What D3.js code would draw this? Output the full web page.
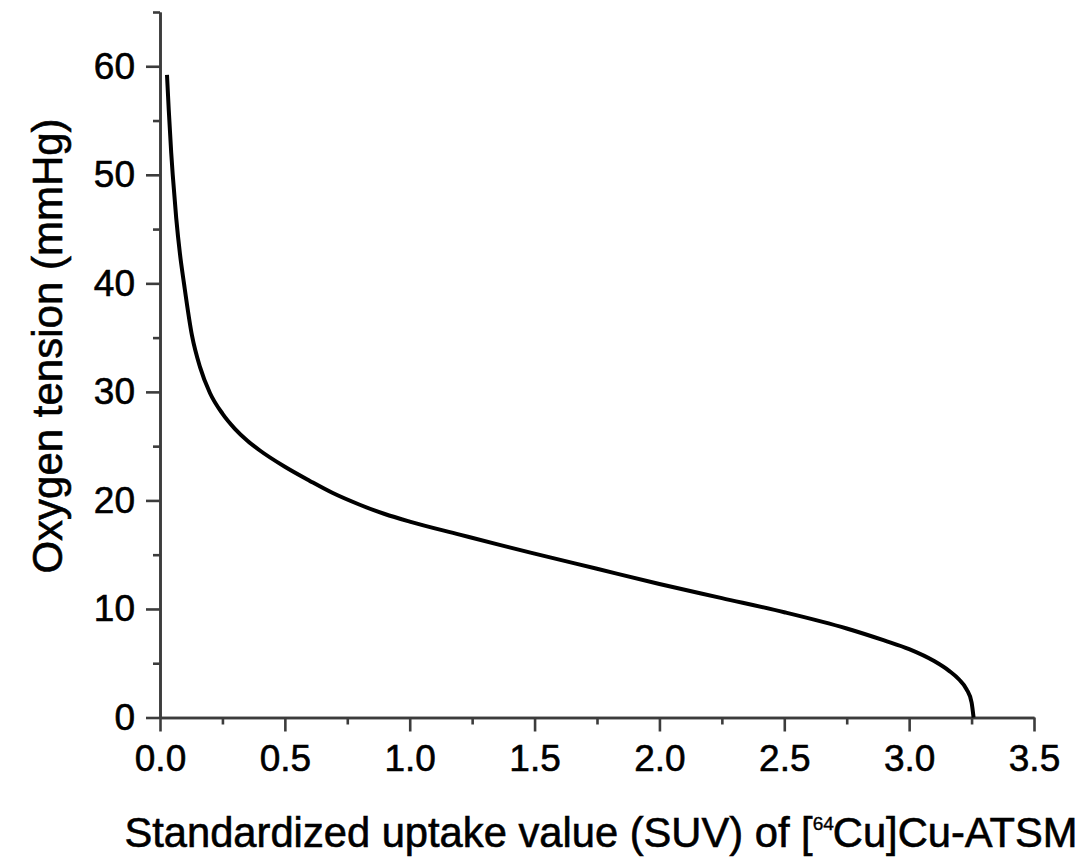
<!DOCTYPE html>
<html>
<head>
<meta charset="utf-8">
<script src="https://cdn.jsdelivr.net/npm/d3@7/dist/d3.min.js"></script>
<style>
  html, body { margin: 0; padding: 0; background: #fff; }
  svg { display: block; }
  text { font-family: "Liberation Sans", Arial, sans-serif; fill: #000; stroke: #000; stroke-width: 0.6px; }
</style>
</head>
<body>
<svg id="chart" width="1082" height="860"></svg>
<script>
// Data
const suvValues = [0.028, 0.035, 0.045, 0.051, 0.065, 0.080, 0.096, 0.128, 0.160, 0.200, 0.250, 0.300, 0.350, 0.400, 0.500, 0.600, 0.690, 0.800, 0.900, 1.000, 1.200, 1.360, 1.500, 1.750, 2.000, 2.250, 2.500, 2.750, 2.900, 3.000, 3.100, 3.160, 3.200, 3.230, 3.250, 3.258];
const oxygenValues = [59.2, 56.0, 52.0, 50.0, 46.0, 42.7, 40.0, 35.2, 32.3, 29.9, 28.0, 26.6, 25.5, 24.6, 23.1, 21.8, 20.7, 19.6, 18.75, 18.05, 16.85, 15.9, 15.1, 13.7, 12.3, 11.0, 9.7, 8.2, 7.1, 6.3, 5.2, 4.3, 3.5, 2.6, 1.4, 0.0];
const xMajorTicks = [0, 0.5, 1.0, 1.5, 2.0, 2.5, 3.0, 3.5];
const xMinorTicks = [0.25, 0.75, 1.25, 1.75, 2.25, 2.75, 3.25];
const yMajorTicks = [0, 10, 20, 30, 40, 50, 60];
const yMinorTicks = [5, 15, 25, 35, 45, 55, 65];
const xTitle = "Standardized uptake value (SUV) of ";
const yTitle = "Oxygen tension (mmHg)";

const svg = d3.select("#chart");
const x = d3.scaleLinear().domain([0, 3.5]).range([160, 1034]);
const y = d3.scaleLinear().domain([0, 65]).range([717.5, 12]);

const axisColor = "#3c3c3c";
const axisWidth = 2.6;

function styleAxis(g) {
  g.select(".domain").attr("stroke", axisColor).attr("stroke-width", axisWidth);
  g.selectAll(".tick line").attr("stroke", axisColor).attr("stroke-width", axisWidth);
  g.selectAll(".tick text").attr("font-size", 37).attr("fill", "#000")
    .attr("font-family", "'Liberation Sans', Arial, sans-serif");
}

// minor ticks
svg.append("g").attr("transform", `translate(0,${y(0)})`)
  .call(d3.axisBottom(x).tickValues(xMinorTicks).tickSize(7).tickSizeOuter(0).tickFormat(""))
  .call(styleAxis);
svg.append("g").attr("transform", `translate(${x(0)},0)`)
  .call(d3.axisLeft(y).tickValues(yMinorTicks).tickSize(7).tickSizeOuter(0).tickFormat(""))
  .call(styleAxis);

// major ticks
svg.append("g").attr("transform", `translate(0,${y(0)})`)
  .call(d3.axisBottom(x).tickValues(xMajorTicks).tickSize(14).tickPadding(13).tickSizeOuter(0).tickFormat(d3.format(".1f")))
  .call(styleAxis);
svg.append("g").attr("transform", `translate(${x(0)},0)`)
  .call(d3.axisLeft(y).tickValues(yMajorTicks).tickSize(14).tickPadding(11).tickSizeOuter(0).tickFormat(d3.format("d")))
  .call(styleAxis);

// curve
const pts = suvValues.map((v, i) => [v, oxygenValues[i]]);
svg.append("path")
  .datum(pts)
  .attr("fill", "none")
  .attr("stroke", "#000")
  .attr("stroke-width", 4)
  .attr("stroke-linejoin", "round")
  .attr("d", d3.line().x(d => x(d[0])).y(d => y(d[1])).curve(d3.curveMonotoneX));

// x title with superscript
const xt = svg.append("text")
  .attr("x", 601).attr("y", 847)
  .attr("text-anchor", "middle")
  .attr("font-size", 41.7);
xt.append("tspan").text(xTitle + "[");
xt.append("tspan").attr("font-size", 19).attr("stroke-width", 0.4).attr("dy", -17).attr("dx", 0).text("64");
xt.append("tspan").attr("dy", 17).attr("dx", -1).text("Cu]Cu-ATSM");

// y title
svg.append("text")
  .attr("transform", "translate(62,346) rotate(-90)")
  .attr("text-anchor", "middle")
  .attr("font-size", 42)
  .text(yTitle);
</script>
</body>
</html>
